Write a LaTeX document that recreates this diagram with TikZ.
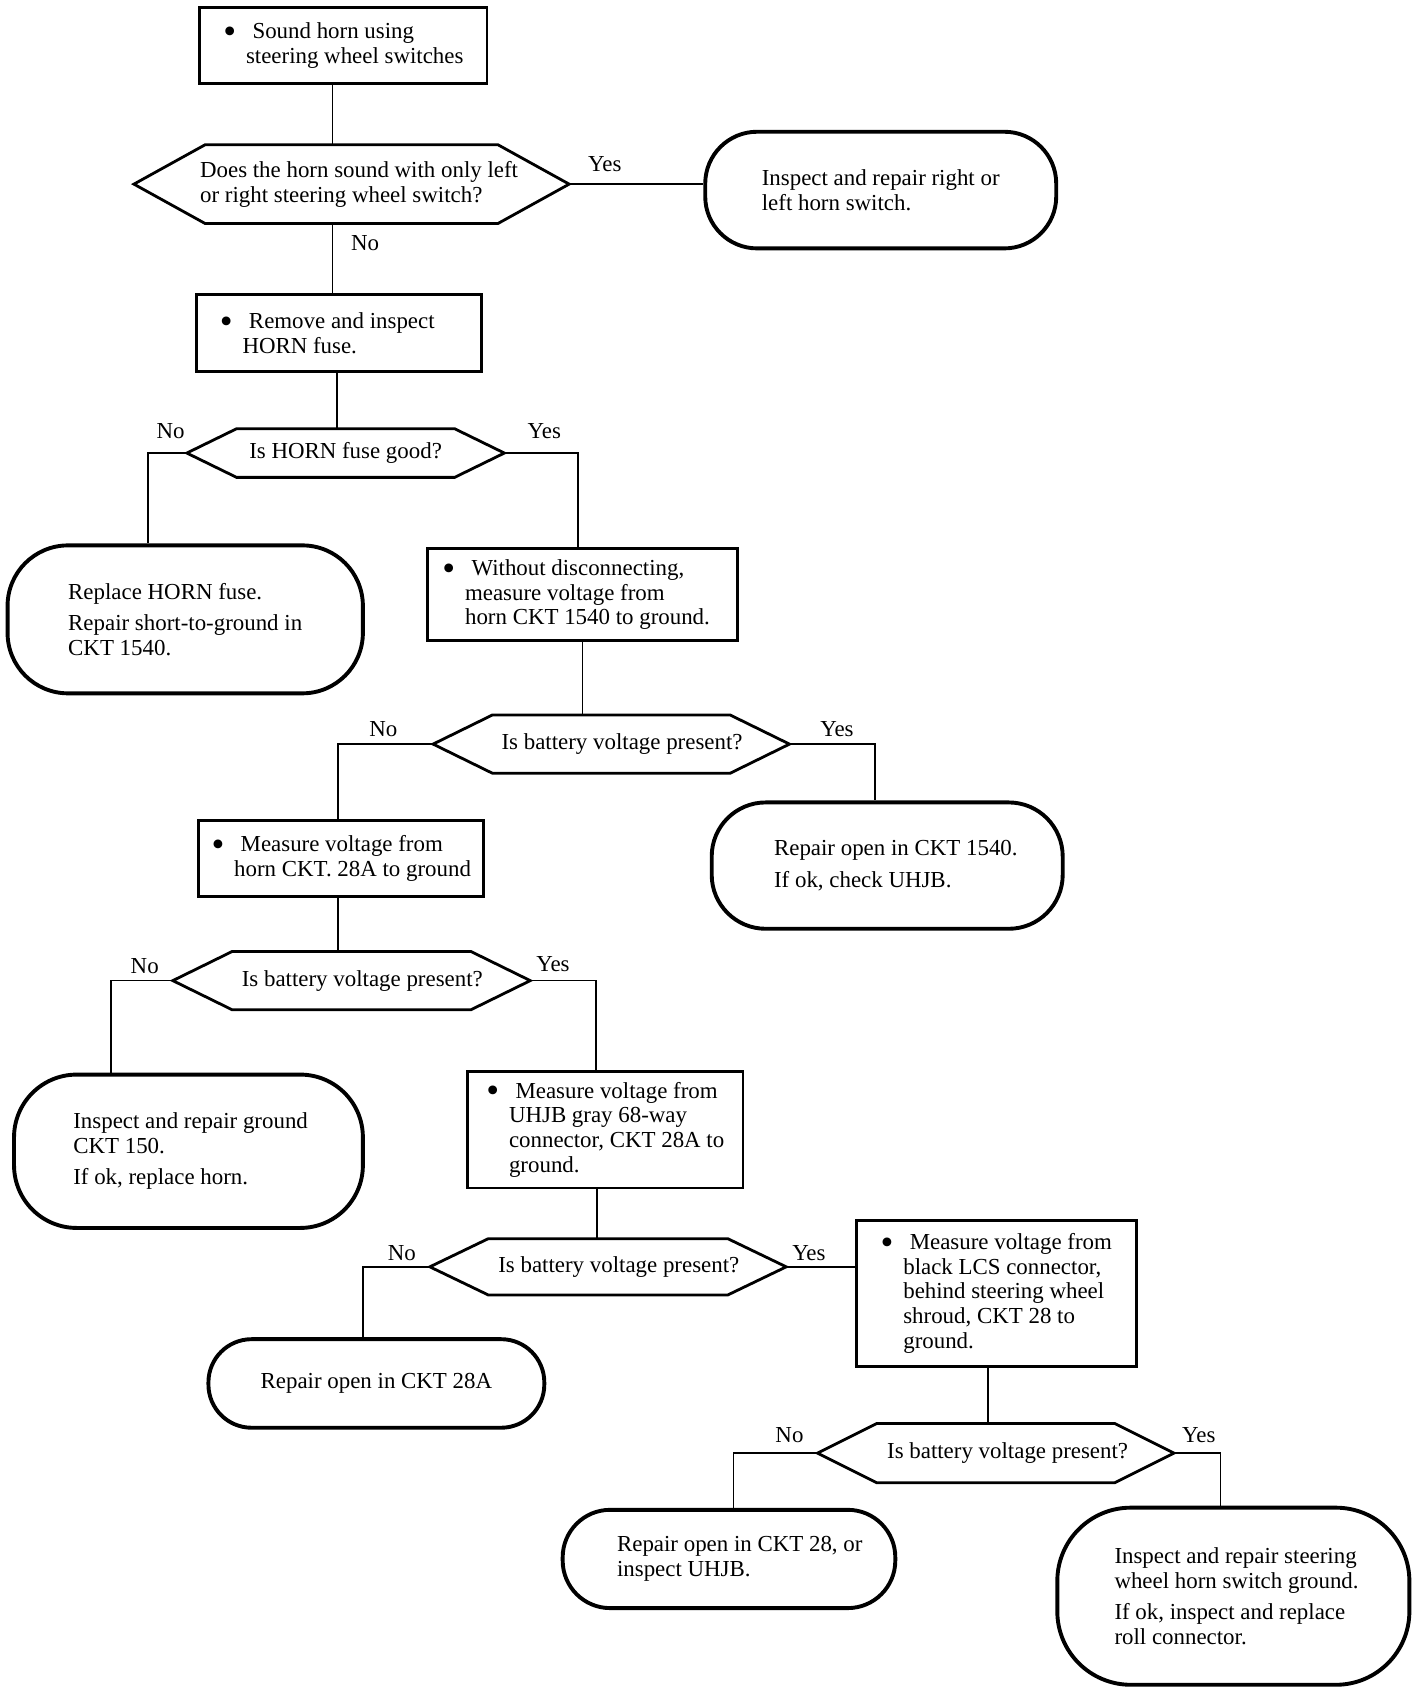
\documentclass[tikz,border=0pt]{standalone}
\usepackage{fontspec}
\setmainfont{Liberation Serif}
\usetikzlibrary{calc}
\newcommand\mybul{\makebox[13.5pt][l]{\raisebox{-2.3pt}{\scalebox{1.6}{\textbullet}}}}
\newcommand\myind{\hspace*{10.5pt}}
\newcommand\hexa[2]{%
  \draw[hexline] ($(#1.north west)+(#2,0)$) -- ($(#1.north east)+(-#2,0)$) -- (#1.east)
    -- ($(#1.south east)+(-#2,0)$) -- ($(#1.south west)+(#2,0)$) -- (#1.west) -- cycle;}
\begin{document}
\begin{tikzpicture}[x=0.5pt,y=-0.5pt,
  every node/.style={font=\fontsize{10.6}{11.5}\selectfont},
  box/.style={draw, line width=1.3pt, inner sep=0pt, align=left},
  rbox/.style={draw, line width=1.8pt, inner sep=0pt, align=left},
  hexnode/.style={inner sep=0pt, outer sep=0pt, align=left},
  hexline/.style={line width=1.3pt, line join=miter},
  conn/.style={line width=0.7pt},
  lab/.style={inner sep=0pt}]
\useasboundingbox (0,0) rectangle (1318.5,1566.7);

% process boxes
\node[box, minimum width=133pt, minimum height=35pt] (b1) at (318,42)
  {\mybul Sound horn using\\\myind steering wheel switches};
\node[box, minimum width=132pt, minimum height=35.5pt] (b2) at (314,308.5)
  {\mybul Remove and inspect\hspace*{11pt}\\\myind HORN fuse.};
\node[box, minimum width=143.5pt, minimum height=42.5pt] (b3) at (539.5,550.5)
  {\mybul Without disconnecting,\\\myind measure voltage from\\\myind horn CKT 1540 to ground.\hspace*{6pt}};
\node[box, minimum width=132pt, minimum height=35pt] (b4) at (316,795)
  {\mybul Measure voltage from\\\myind horn CKT. 28A to ground};
\node[box, minimum width=127.5pt, minimum height=54pt] (b5) at (560.5,1046)
  {\mybul Measure voltage from\\\myind UHJB gray 68-way\\\myind connector, CKT 28A to\hspace*{4pt}\\\myind ground.};
\node[box, minimum width=129.5pt, minimum height=67.5pt] (b6) at (922.5,1197.5)
  {\mybul Measure voltage from\\\myind black LCS connector,\\\myind behind steering wheel\hspace*{8pt}\\\myind shroud, CKT 28 to\\\myind ground.};

% decisions
\node[hexnode, minimum width=201.5pt, minimum height=36.5pt] (d1) at (325.5,170.5)
  {\hspace*{7pt}Does the horn sound with only left\\\hspace*{7pt}or right steering wheel switch?};
\hexa{d1}{33pt}
\node[hexnode, minimum width=147pt, minimum height=22.5pt] (d2) at (320,419.5)
  {Is HORN fuse good?};
\hexa{d2}{23pt}
\node[hexnode, minimum width=165pt, minimum height=27pt] (d3) at (566,689)
  {\hspace*{10pt}Is battery voltage present?};
\hexa{d3}{27.5pt}
\node[hexnode, minimum width=165.5pt, minimum height=27pt] (d4) at (325.5,908)
  {\hspace*{10pt}Is battery voltage present?};
\hexa{d4}{27.5pt}
\node[hexnode, minimum width=165pt, minimum height=26pt] (d5) at (563,1173)
  {\hspace*{10pt}Is battery voltage present?};
\hexa{d5}{27pt}
\node[hexnode, minimum width=165pt, minimum height=27.5pt] (d6) at (922,1345.5)
  {\hspace*{11pt}Is battery voltage present?};
\hexa{d6}{27.5pt}

% terminal (rounded) boxes
\node[rbox, rounded corners=24pt, minimum width=162.5pt, minimum height=54pt] (r1) at (815.5,176)
  {Inspect and repair right or\\left horn switch.};
\node[rbox, rounded corners=28pt, minimum width=164.5pt, minimum height=68.5pt] (r2) at (171.5,573.5)
  {Replace HORN fuse.\\[3pt]Repair short-to-ground in\\CKT 1540.};
\node[rbox, rounded corners=25pt, minimum width=162.5pt, minimum height=58.5pt] (r3) at (821.5,801.5)
  {\hspace*{8pt}Repair open in CKT 1540.\\[3pt]\hspace*{8pt}If ok, check UHJB.};
\node[rbox, rounded corners=29pt, minimum width=161.5pt, minimum height=71pt] (r4) at (174.5,1066)
  {\hspace*{2pt}Inspect and repair ground\\\hspace*{2pt}CKT 150.\\[3pt]\hspace*{2pt}If ok, replace horn.};
\node[rbox, rounded corners=20pt, minimum width=155.5pt, minimum height=41pt] (r5) at (348.5,1281)
  {Repair open in CKT 28A};
\node[rbox, rounded corners=22pt, minimum width=154pt, minimum height=45.5pt] (r6) at (675,1443.5)
  {\hspace*{10pt}Repair open in CKT 28, or\\\hspace*{10pt}inspect UHJB.};
\node[rbox, rounded corners=34pt, minimum width=163pt, minimum height=82pt] (r7) at (1142,1478)
  {\hspace*{3pt}Inspect and repair steering\\\hspace*{3pt}wheel horn switch ground.\\[3pt]\hspace*{3pt}If ok, inspect and replace\\\hspace*{3pt}roll connector.};

% connectors
\draw[conn] ([xshift=-5pt]b1.south) -- ([xshift=-5pt]b1.south |- d1.north);
\draw[conn] (d1.east) -- (d1.east -| r1.west);
\draw[conn] ([xshift=-3pt]b2.north |- d1.south) -- ([xshift=-3pt]b2.north);
\draw[conn] ([xshift=-1pt]b2.south) -- ([xshift=-1pt]b2.south |- d2.north);
\draw[conn] (d2.west) -| ([xshift=-17.25pt]r2.north);
\draw[conn] (d2.east) -| ([xshift=-2.25pt]b3.north);
\draw[conn] (b3.south) -- (b3.south |- d3.north);
\draw[conn] (d3.west) -| ([xshift=-1.5pt]b4.north);
\draw[conn] (d3.east) -| ([xshift=-5.75pt]r3.north);
\draw[conn] ([xshift=-1.5pt]b4.south) -- ([xshift=-1.5pt]b4.south |- d4.north);
\draw[conn] (d4.west) -| ([xshift=-35.75pt]r4.north);
\draw[conn] (d4.east) -| ([xshift=-4.25pt]b5.north);
\draw[conn] ([xshift=-3.75pt]b5.south) -- ([xshift=-3.75pt]b5.south |- d5.north);
\draw[conn] (d5.west) -| ([xshift=-6.25pt]r5.north);
\draw[conn] (d5.east) -- (d5.east -| b6.west);
\draw[conn] ([xshift=-3.75pt]b6.south) -- ([xshift=-3.75pt]b6.south |- d6.north);
\draw[conn] (d6.west) -| ([xshift=2pt]r6.north);
\draw[conn] (d6.east) -| ([xshift=-6pt]r7.north);

% labels
\node[lab] (y1) at (560,152) {Yes};
\node[lab] (n1) at (338,225) {No};
\node[lab] (n2) at (158,399) {No};
\node[lab] (y2) at (504,399) {Yes};
\node[lab] (n3) at (355,675) {No};
\node[lab] (y3) at (775,675) {Yes};
\node[lab] (n4) at (134,895) {No};
\node[lab] (y4) at (512,893) {Yes};
\node[lab] (n5) at (372,1160) {No};
\node[lab] (y5) at (749,1160) {Yes};
\node[lab] (n6) at (731,1329) {No};
\node[lab] (y6) at (1110,1329) {Yes};
\end{tikzpicture}
\end{document}
